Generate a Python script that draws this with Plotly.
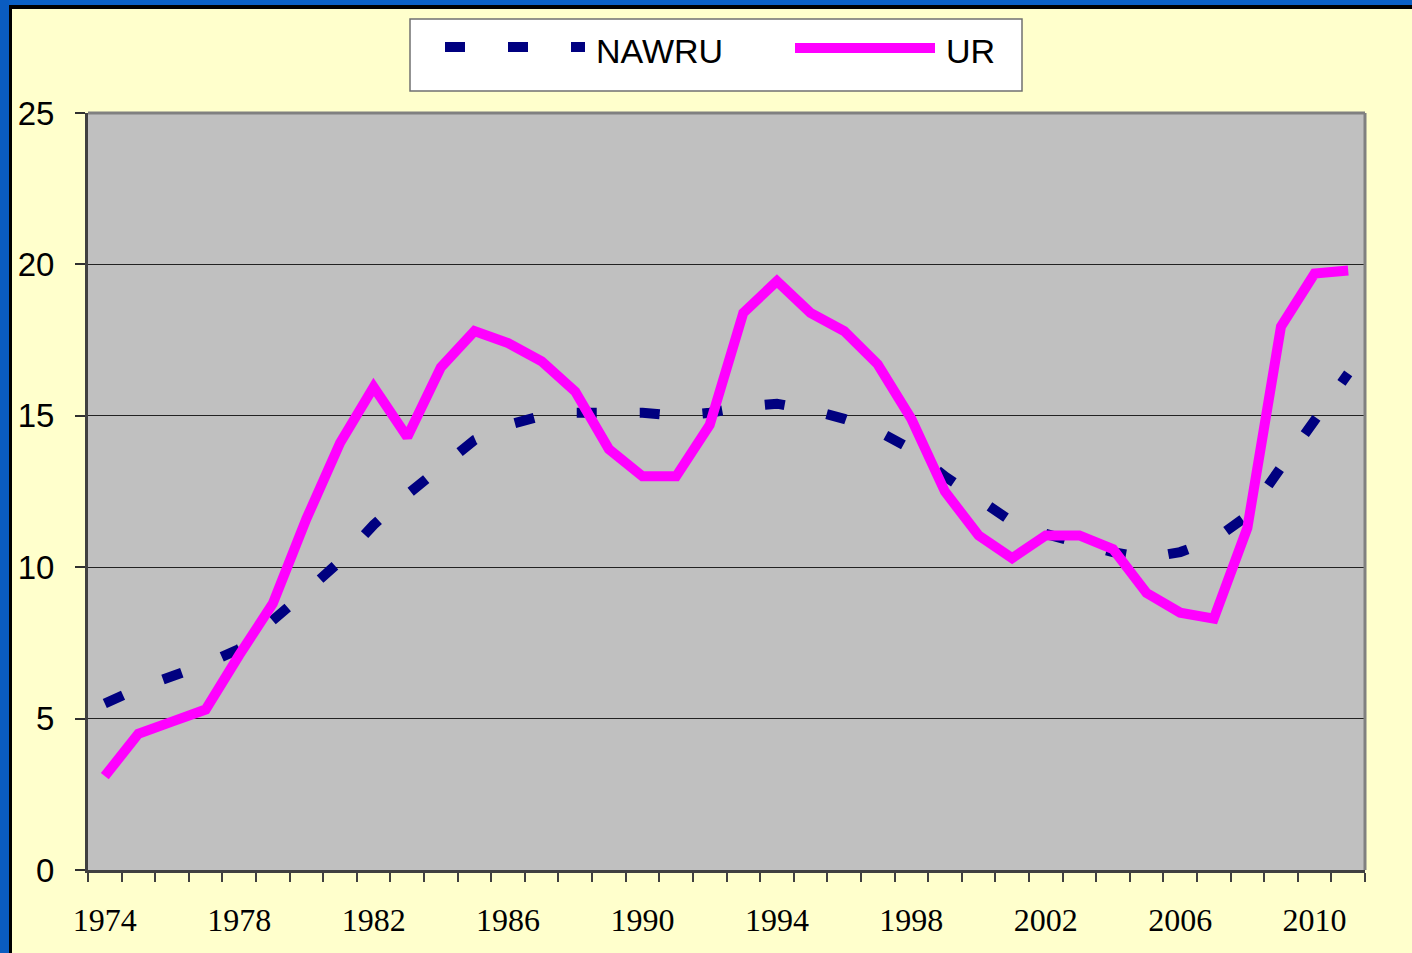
import plotly.graph_objects as go

years = list(range(1974, 2012))
nawru = [5.5, 6.0, 6.4, 6.8, 7.3, 8.2, 9.2, 10.2, 11.4, 12.4, 13.3, 14.2, 14.7, 15.0,
         15.1, 15.1, 15.1, 15.0, 15.1, 15.3, 15.4, 15.2, 14.9, 14.5, 13.9, 13.0, 12.2,
         11.5, 11.1, 10.8, 10.5, 10.3, 10.5, 10.9, 11.7, 13.3, 14.9, 16.4]
ur = [3.1, 4.5, 4.9, 5.3, 7.1, 8.8, 11.6, 14.1, 15.95, 14.3, 16.6, 17.8, 17.4, 16.8,
      15.8, 13.9, 13.0, 13.0, 14.7, 18.4, 19.45, 18.4, 17.8, 16.7, 14.9, 12.5, 11.05,
      10.3, 11.05, 11.05, 10.6, 9.15, 8.5, 8.3, 11.3, 17.95, 19.7, 19.8]
xlabels = [1974, 1978, 1982, 1986, 1990, 1994, 1998, 2002, 2006, 2010]
yticks = [0, 5, 10, 15, 20, 25]

W, H = 1412, 953
L, R, T, B = 88, 1365, 113, 870


def px(x):
    return (x - L) / (R - L)


def py(y):
    return (B - y) / (B - T)


NAVY = "#000080"
MAG = "#FF00FF"
DASH = "20px,43px"

fig = go.Figure()
fig.add_trace(go.Scatter(x=years, y=nawru, mode="lines", name="NAWRU",
                         line=dict(color=NAVY, width=10, dash=DASH), showlegend=False))
fig.add_trace(go.Scatter(x=years, y=ur, mode="lines", name="UR",
                         line=dict(color=MAG, width=10), showlegend=False))

shapes = []
# slide frame
shapes.append(dict(type="rect", xref="paper", yref="paper", x0=px(0), x1=px(W), y0=py(0), y1=py(5),
                   fillcolor="#0A60C6", line=dict(width=0), layer="above"))
shapes.append(dict(type="rect", xref="paper", yref="paper", x0=px(9), x1=px(W), y0=py(5), y1=py(9),
                   fillcolor="#000000", line=dict(width=0), layer="above"))
shapes.append(dict(type="rect", xref="paper", yref="paper", x0=px(0), x1=px(9), y0=py(0), y1=py(H),
                   fillcolor="#0A5CC0", line=dict(width=0), layer="above"))
shapes.append(dict(type="rect", xref="paper", yref="paper", x0=px(9), x1=px(12), y0=py(5), y1=py(H),
                   fillcolor="#000000", line=dict(width=0), layer="above"))
# plot border top/right (gray)
shapes.append(dict(type="line", xref="paper", yref="paper", x0=0, x1=1.0, y0=1, y1=1,
                   line=dict(color="#808080", width=3), layer="above"))
shapes.append(dict(type="line", xref="paper", yref="paper", x0=1, x1=1, y0=0, y1=1,
                   line=dict(color="#808080", width=3), layer="above"))
# legend box
shapes.append(dict(type="rect", xref="paper", yref="paper", x0=px(410), x1=px(1022), y0=py(91), y1=py(19),
                   fillcolor="white", line=dict(color="#707070", width=1.5)))
shapes.append(dict(type="line", xref="paper", yref="paper", x0=px(445), x1=px(585), y0=py(47), y1=py(47),
                   line=dict(color=NAVY, width=10, dash=DASH)))
shapes.append(dict(type="line", xref="paper", yref="paper", x0=px(795), x1=px(935), y0=py(48), y1=py(48),
                   line=dict(color=MAG, width=10)))

annotations = [
    dict(xref="paper", yref="paper", x=px(594), y=py(51), text="NAWRU", showarrow=False,
         xanchor="left", yanchor="middle", font=dict(family="Liberation Sans, Arial", size=34, color="black")),
    dict(xref="paper", yref="paper", x=px(944), y=py(51), text="UR", showarrow=False,
         xanchor="left", yanchor="middle", font=dict(family="Liberation Sans, Arial", size=34, color="black")),
]

fig.update_layout(
    width=W, height=H,
    margin=dict(l=L, r=W - R, t=T, b=H - B, pad=0, autoexpand=False),
    paper_bgcolor="#FFFFCC",
    plot_bgcolor="#C0C0C0",
    shapes=shapes,
    annotations=annotations,
    showlegend=False,
)
fig.update_xaxes(
    range=[1973.5, 2011.5], tickmode="array", tickvals=xlabels, ticktext=[str(v) for v in xlabels],
    ticks="", showgrid=False, zeroline=False, automargin=False,
    showline=True, linecolor="#404040", linewidth=3,
    tickfont=dict(family="Liberation Serif, Times New Roman", size=32, color="black"),
    ticklabelstandoff=20,
    minor=dict(ticks="outside", tick0=1973.5, dtick=1, ticklen=9, tickcolor="#404040", tickwidth=2, showgrid=False),
)
fig.update_yaxes(
    range=[0, 25], tickmode="array", tickvals=yticks, automargin=False,
    ticks="outside", ticklen=10, tickcolor="#303030", tickwidth=2,
    showgrid=True, gridcolor="#222222", gridwidth=1, zeroline=False,
    showline=True, linecolor="#404040", linewidth=3,
    tickfont=dict(family="Liberation Sans, Arial", size=33, color="black"),
    ticklabelstandoff=14,
)

fig.write_html("out.html", config={"displayModeBar": False},
               post_script="document.body.style.margin='0';document.body.style.background='#FFFFCC';")
